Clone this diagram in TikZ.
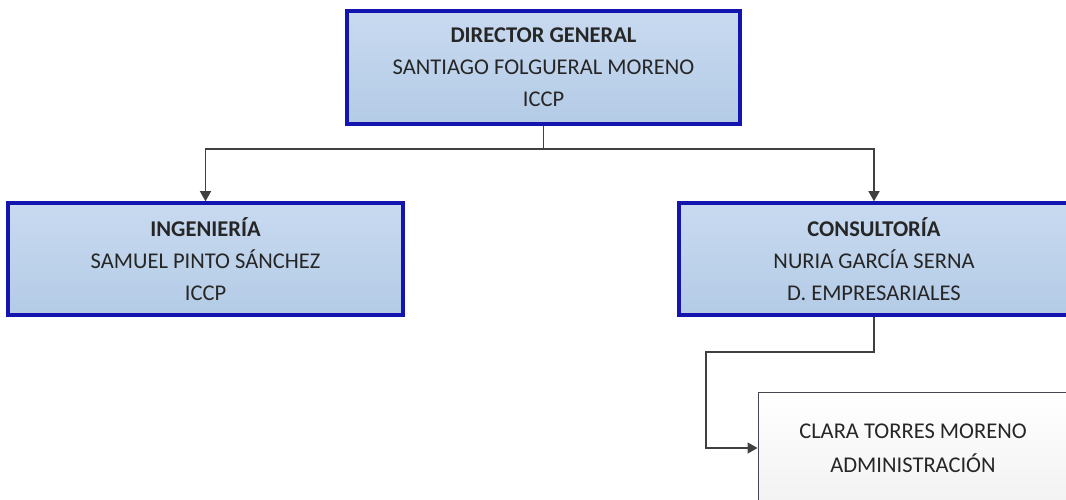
\documentclass[tikz,border=0pt]{standalone}
\usepackage{fontspec}
\setmainfont{Carlito}
\usetikzlibrary{arrows.meta}
\definecolor{org_blue}{RGB}{20, 20, 175}
\definecolor{org_fill_top}{RGB}{200, 218, 240}
\definecolor{org_fill_bot}{RGB}{180, 203, 230}
\definecolor{org_line}{RGB}{64, 64, 64}
\definecolor{org_gray}{RGB}{70, 70, 80}
\tikzstyle{headbox}=[rectangle,draw=org_blue,line width=3.5pt,top color=org_fill_top,
  bottom color=org_fill_bot,align=center,inner sep=0pt,text=black!85,
  font=\fontsize{22.5}{32}\selectfont]
\tikzstyle{staffbox}=[rectangle,draw=org_gray,line width=1pt,top color=white,
  bottom color=black!5,align=center,inner sep=0pt,text=black!85,
  font=\fontsize{22.5}{34}\selectfont]
\tikzstyle{link}=[draw=org_line,line width=1.3pt,-{Triangle[length=10pt,width=11pt]}]

\begin{document}
\begin{tikzpicture}[x=1pt,y=-1pt]
    \useasboundingbox (0,0) rectangle (1066,500);
    \fill[white] (0,0) rectangle (1066,500);
    \node [style=headbox,minimum width=393pt,minimum height=113pt] (director) at (543.5,67.5)
      {\textbf{DIRECTOR GENERAL}\\SANTIAGO FOLGUERAL MORENO\\ICCP};
    \node [style=headbox,minimum width=395pt,minimum height=112pt] (ingenieria) at (205.5,259)
      {\textbf{INGENIERÍA}\\SAMUEL PINTO SÁNCHEZ\\ICCP};
    \node [style=headbox,minimum width=390pt,minimum height=112pt] (consultoria) at (874,259)
      {\textbf{CONSULTORÍA}\\NURIA GARCÍA SERNA\\D. EMPRESARIALES};
    \node [style=staffbox,minimum width=310pt,minimum height=112pt] (administracion) at (913,448)
      {CLARA TORRES MORENO\\ADMINISTRACIÓN};
    \coordinate (split) at (543.5,149);
    \coordinate (bend) at (706,352);
    \draw [line width=1.3pt,draw=org_line] (director.south) -- (split);
    \draw [style=link] (split) -| (ingenieria.north);
    \draw [style=link] (split) -| (consultoria.north);
    \draw [style=link] (consultoria.south) |- (bend) |- (administracion.west);
\end{tikzpicture}
\end{document}
